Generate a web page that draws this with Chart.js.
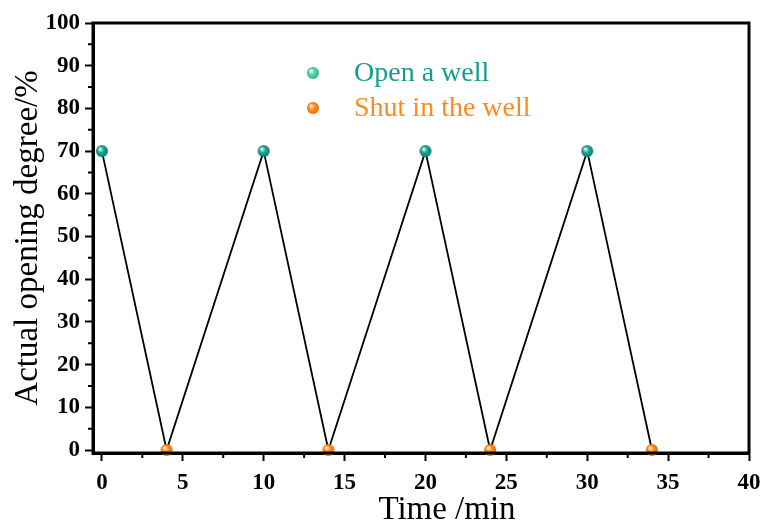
<!DOCTYPE html>
<html>
<head>
<meta charset="utf-8">
<script src="https://cdn.jsdelivr.net/npm/chart.js@4.4.1/dist/chart.umd.min.js"></script>
<style>
  html, body { margin: 0; padding: 0; background: #fff; }
  #wrap { width: 760px; height: 521px; }
</style>
</head>
<body>
<div id="wrap"><canvas id="chart" width="760" height="521"></canvas></div>
<script>
// ---- data ----
var openTimes = [0, 10, 20, 30];
var openDegree = [70, 70, 70, 70];
var shutTimes = [4, 14, 24, 34];
var shutDegree = [0, 0, 0, 0];
var xTicks = [0, 5, 10, 15, 20, 25, 30, 35, 40];
var yTicks = [0, 10, 20, 30, 40, 50, 60, 70, 80, 90, 100];
var legendLabels = ['Open a well', 'Shut in the well'];
var xTitle = 'Time /min';
var yTitle = 'Actual opening degree/%';

var TEAL = '#159c8c';
var ORANGE = '#ff8a1c';
var SERIF = '"Liberation Serif", "Times New Roman", serif';

// little shaded ball used as the point marker
function makeBall(dark, mid, light, r) {
    var c = document.createElement('canvas');
    c.width = c.height = r * 2 + 2;
    var g = c.getContext('2d');
    var grad = g.createRadialGradient(r - r * 0.35 + 1, r - r * 0.4 + 1, 0.5, r + 1, r + 1, r);
    grad.addColorStop(0, light);
    grad.addColorStop(0.45, mid);
    grad.addColorStop(1, dark);
    g.fillStyle = grad;
    g.beginPath();
    g.arc(r + 1, r + 1, r, 0, Math.PI * 2);
    g.fill();
    return c;
}
var tealBall = makeBall('#0b7d70', '#1aa896', '#d8fff6', 6);
var orangeBall = makeBall('#e06a00', '#ff8c1e', '#fff0d8', 6);
var tealBallLegend = makeBall('#2fb58c', '#5fd2ab', '#e8fff6', 6);
var orangeBallLegend = makeBall('#e86e00', '#ff8d26', '#fff0d8', 6);

// zig-zag path through both series in time order
var pathPts = [];
openTimes.forEach(function(t, i) { pathPts.push({ x: t, y: openDegree[i] }); });
shutTimes.forEach(function(t, i) { pathPts.push({ x: t, y: shutDegree[i] }); });
pathPts.sort(function(a, b) { return a.x - b.x; });

// frame, minor ticks, axis titles and legend
var framePlugin = {
    id: 'frame',
    afterDraw: function(chart) {
        var ctx = chart.ctx, a = chart.chartArea;
        var xs = chart.scales.x, ys = chart.scales.y;
        ctx.save();
        ctx.strokeStyle = '#000';
        ctx.lineWidth = 3;
        ctx.strokeRect(a.left, a.top, a.right - a.left, a.bottom - a.top);

        // minor ticks, outward
        ctx.lineWidth = 2;
        ctx.beginPath();
        for (var i = 0; i < xTicks.length - 1; i++) {
            var xm = xs.getPixelForValue((xTicks[i] + xTicks[i + 1]) / 2);
            ctx.moveTo(xm, a.bottom);
            ctx.lineTo(xm, a.bottom + 5);
        }
        for (var j = 0; j < yTicks.length - 1; j++) {
            var ym = ys.getPixelForValue((yTicks[j] + yTicks[j + 1]) / 2);
            ctx.moveTo(a.left, ym);
            ctx.lineTo(a.left - 5, ym);
        }
        ctx.stroke();

        // axis titles
        ctx.fillStyle = '#000';
        ctx.textAlign = 'center';
        ctx.textBaseline = 'alphabetic';
        ctx.font = '33px ' + SERIF;
        ctx.fillText(xTitle, 447, 519);
        ctx.save();
        ctx.translate(37, 238);
        ctx.rotate(-Math.PI / 2);
        ctx.fillText(yTitle, 0, 0);
        ctx.restore();

        // legend
        var balls = [tealBallLegend, orangeBallLegend];
        var colors = [TEAL, ORANGE];
        ctx.font = '28px ' + SERIF;
        ctx.textAlign = 'left';
        ctx.textBaseline = 'middle';
        legendLabels.forEach(function(lbl, k) {
            var cy = 73 + k * 35;
            ctx.drawImage(balls[k], 313 - 7, cy - 7);
            ctx.fillStyle = colors[k];
            ctx.fillText(lbl, 354, cy + 1);
        });
        ctx.restore();
    }
};

new Chart(document.getElementById('chart'), {
    type: 'scatter',
    data: {
        datasets: [
            {
                label: 'path',
                data: pathPts,
                showLine: true,
                borderColor: '#000',
                borderWidth: 1.8,
                pointRadius: 0,
                order: 3
            },
            {
                label: legendLabels[0],
                data: openTimes.map(function(t, i) { return { x: t, y: openDegree[i] }; }),
                pointStyle: tealBall,
                backgroundColor: TEAL,
                order: 1
            },
            {
                label: legendLabels[1],
                data: shutTimes.map(function(t, i) { return { x: t, y: shutDegree[i] }; }),
                pointStyle: orangeBall,
                backgroundColor: ORANGE,
                order: 2
            }
        ]
    },
    options: {
        responsive: false,
        animation: false,
        clip: false,
        layout: { padding: { left: 0, top: 23, right: 0, bottom: 0 } },
        plugins: { legend: { display: false }, tooltip: { enabled: false } },
        scales: {
            x: {
                type: 'linear',
                min: -0.55,
                max: 40,
                afterBuildTicks: function(s) { s.ticks = xTicks.map(function(v) { return { value: v }; }); },
                afterFit: function(s) { s.height = 68; s.paddingRight = 11; },
                grid: { drawOnChartArea: false, tickLength: 8, tickWidth: 2, tickColor: '#000' },
                border: { display: true, width: 3, color: '#000' },
                ticks: { color: '#000', padding: 8, maxRotation: 0, font: { family: SERIF, size: 23, weight: 'bold' } },
                title: { display: false }
            },
            y: {
                min: -0.7,
                max: 100,
                afterBuildTicks: function(s) { s.ticks = yTicks.map(function(v) { return { value: v }; }); },
                afterFit: function(s) { s.width = 93; s.paddingTop = 0; },
                grid: { drawOnChartArea: false, tickLength: 8, tickWidth: 2, tickColor: '#000' },
                border: { display: true, width: 3, color: '#000' },
                ticks: { color: '#000', padding: 5, font: { family: SERIF, size: 23, weight: 'bold' } },
                title: { display: false }
            }
        }
    },
    plugins: [framePlugin]
});
</script>
</body>
</html>
